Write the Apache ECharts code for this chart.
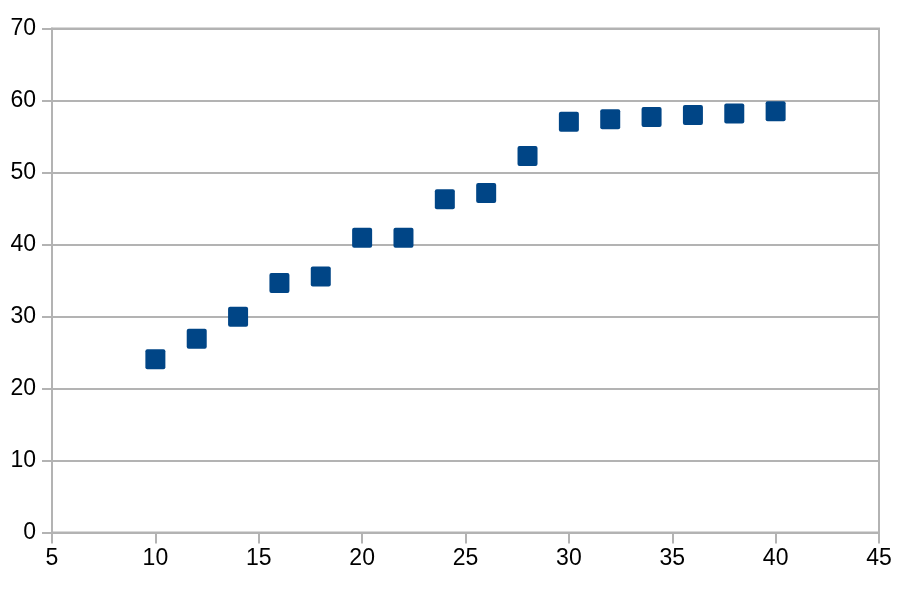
<!DOCTYPE html>
<html>
<head>
<meta charset="utf-8">
<script src="https://cdn.jsdelivr.net/npm/echarts@6/dist/echarts.min.js"></script>
<style>html,body{margin:0;padding:0;background:#fff;}#c{width:912px;height:592px;}</style>
</head>
<body>
<div id="c"></div>
<script>
var xValues = [10, 12, 14, 16, 18, 20, 22, 24, 26, 28, 30, 32, 34, 36, 38, 40];
var yValues = [24.05, 26.9, 29.95, 34.65, 35.55, 40.95, 40.95, 46.3, 47.15, 52.3, 57.05, 57.4, 57.7, 58.0, 58.2, 58.5];
var xTicks = [5, 10, 15, 20, 25, 30, 35, 40, 45];
var yTicks = [0, 10, 20, 30, 40, 50, 60, 70];

var points = xValues.map(function (x, i) { return [x, yValues[i]]; });
var chart = echarts.init(document.getElementById('c'), null, {renderer: 'canvas'});
var gridColor = '#b3b3b3';
var labelFont = {color: '#000', fontSize: 23, fontFamily: 'Liberation Sans, Arial, sans-serif'};
chart.setOption({
  animation: false,
  backgroundColor: '#fff',
  grid: {left: 52, right: 33, top: 28.5, bottom: 59.5, show: true, borderColor: gridColor, borderWidth: 2, containLabel: false},
  xAxis: {
    type: 'value', min: xTicks[0], max: xTicks[xTicks.length - 1], interval: 5,
    axisLine: {show: true, onZero: false, lineStyle: {color: gridColor, width: 2}},
    axisTick: {show: true, length: 11, lineStyle: {color: gridColor, width: 2}},
    splitLine: {show: false},
    axisLabel: Object.assign({margin: 15}, labelFont)
  },
  yAxis: {
    type: 'value', min: yTicks[0], max: yTicks[yTicks.length - 1], interval: 10,
    axisLine: {show: true, lineStyle: {color: gridColor, width: 2}},
    axisTick: {show: true, length: 10, lineStyle: {color: gridColor, width: 2}},
    splitLine: {show: true, lineStyle: {color: gridColor, width: 2}},
    axisLabel: Object.assign({margin: 16}, labelFont)
  },
  series: [{
    type: 'scatter',
    data: points,
    symbol: 'path://M2,0 H18 Q20,0 20,2 V18 Q20,20 18,20 H2 Q0,20 0,18 V2 Q0,0 2,0 Z',
    symbolSize: 20,
    itemStyle: {color: '#004586', opacity: 1}
  }]
});
</script>
</body>
</html>
